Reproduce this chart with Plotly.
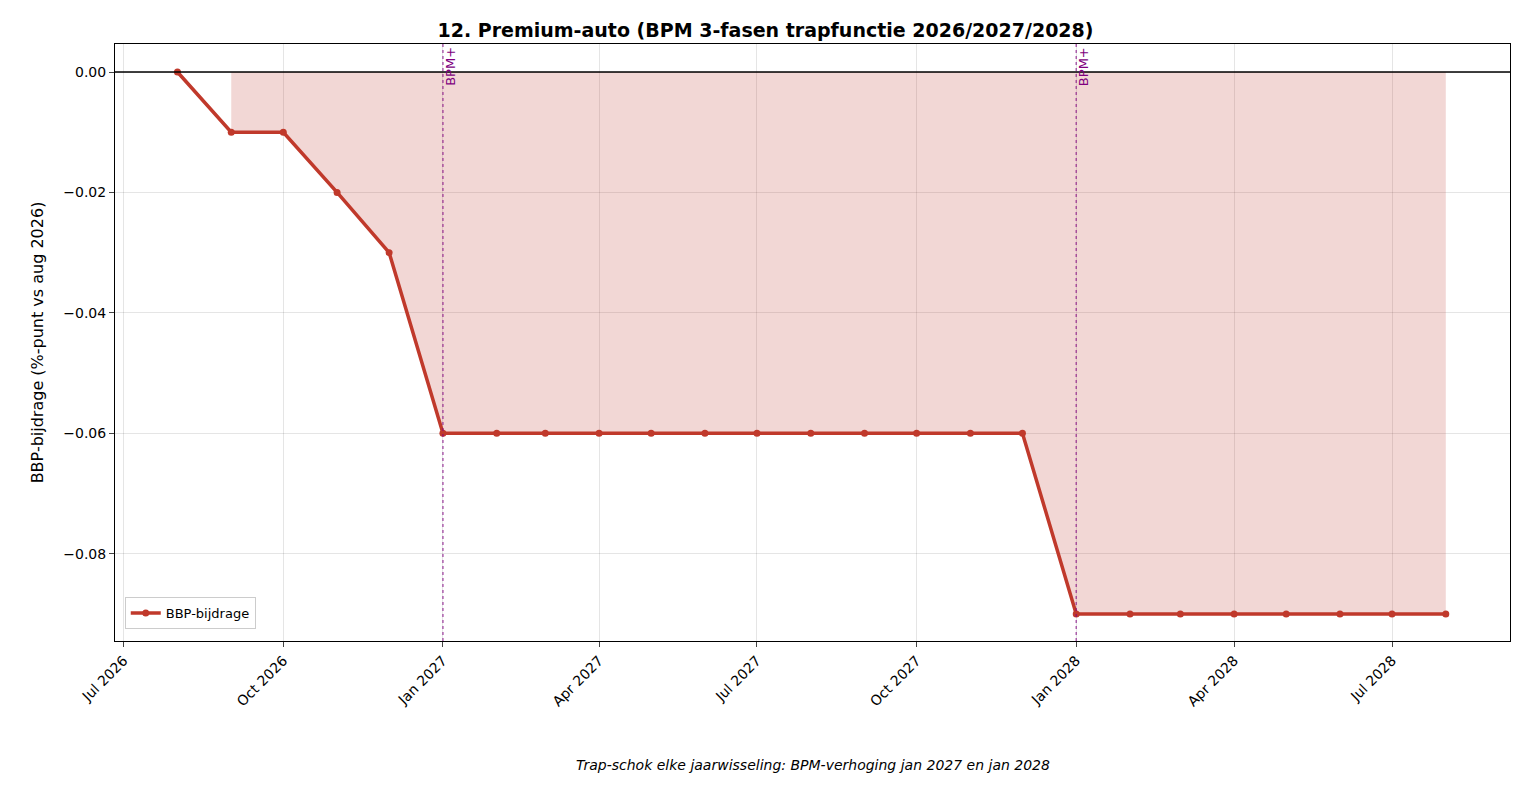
import plotly.graph_objects as go

dates = ["2026-08-01", "2026-09-01", "2026-10-01", "2026-11-01", "2026-12-01",
         "2027-01-01", "2027-02-01", "2027-03-01", "2027-04-01", "2027-05-01",
         "2027-06-01", "2027-07-01", "2027-08-01", "2027-09-01", "2027-10-01",
         "2027-11-01", "2027-12-01", "2028-01-01", "2028-02-01", "2028-03-01",
         "2028-04-01", "2028-05-01", "2028-06-01", "2028-07-01", "2028-08-01"]
bbp = [0.0, -0.01, -0.01, -0.02, -0.03,
       -0.06, -0.06, -0.06, -0.06, -0.06,
       -0.06, -0.06, -0.06, -0.06, -0.06,
       -0.06, -0.06, -0.09, -0.09, -0.09,
       -0.09, -0.09, -0.09, -0.09, -0.09]
shocks = ["2027-01-01", "2028-01-01"]
tick_dates = ["2026-07-01", "2026-10-01", "2027-01-01", "2027-04-01", "2027-07-01",
              "2027-10-01", "2028-01-01", "2028-04-01", "2028-07-01"]
tick_text = ["Jul 2026", "Oct 2026", "Jan 2027", "Apr 2027", "Jul 2027",
             "Oct 2027", "Jan 2028", "Apr 2028", "Jul 2028"]

red = "#c0392b"
fig = go.Figure()
# filled area between zero and the line (from Sep 2026)
fig.add_trace(go.Scatter(x=dates[1:], y=[0] * (len(dates) - 1), mode="lines",
                         line=dict(width=0), showlegend=False, hoverinfo="skip"))
fig.add_trace(go.Scatter(x=dates[1:], y=bbp[1:], mode="lines", line=dict(width=0),
                         fill="tonexty", fillcolor="rgba(192,57,43,0.2)",
                         showlegend=False, hoverinfo="skip"))
fig.add_trace(go.Scatter(x=dates, y=bbp, mode="lines+markers", name="BBP-bijdrage",
                         line=dict(color=red, width=3.5), marker=dict(size=7, color=red)))

fig.add_hline(y=0, line=dict(color="black", width=1.5))
for s in shocks:
    fig.add_vline(x=s, line=dict(color="purple", width=1.5, dash="dot"), opacity=0.6)
    fig.add_annotation(x=s, y=0.0045, yref="y", text="BPM+", textangle=-90, showarrow=False,
                       xanchor="left", yanchor="top", font=dict(color="purple", size=13), xshift=-2)

fig.add_annotation(x=0.5, y=-0.225, xref="paper", yref="paper", showarrow=False,
                   text="<i>Trap-schok elke jaarwisseling: BPM-verhoging jan 2027 en jan 2028</i>",
                   font=dict(size=14))

fig.update_layout(
    width=1515, height=783, plot_bgcolor="white", paper_bgcolor="white",
    font=dict(family="DejaVu Sans", size=14, color="black"),
    margin=dict(l=107, r=13, t=36, b=150),
    title=dict(text="<b>12. Premium-auto (BPM 3-fasen trapfunctie 2026/2027/2028)</b>",
               x=0.5, xanchor="center", y=0.98, font=dict(size=19)),
    legend=dict(x=0.007, y=0.02, xanchor="left", yanchor="bottom",
                bordercolor="#ccc", borderwidth=1, font=dict(size=13)),
    xaxis=dict(range=["2026-06-26", "2028-09-07"], tickvals=tick_dates, ticktext=tick_text,
               tickangle=-45, showgrid=True, gridcolor="rgba(0,0,0,0.1)", ticks="outside",
               showline=True, linecolor="black", mirror=True, zeroline=False),
    yaxis=dict(range=[-0.0945, 0.00465], tickvals=[0, -0.02, -0.04, -0.06, -0.08],
               ticktext=["0.00", "\u22120.02", "\u22120.04", "\u22120.06", "\u22120.08"],
               title=dict(text="BBP-bijdrage (%-punt vs aug 2026)", font=dict(size=16)),
               showgrid=True, gridcolor="rgba(0,0,0,0.1)", ticks="outside",
               showline=True, linecolor="black", mirror=True, zeroline=False),
)
fig.write_html("out.html")
